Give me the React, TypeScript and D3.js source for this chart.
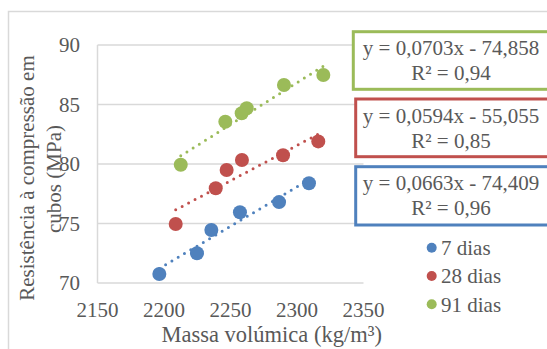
import React from "react";
import * as d3 from "d3";

const xTicks = [2150, 2200, 2250, 2300, 2350];
const yTicks = [70, 75, 80, 85, 90];

const seriesNames = ["7 dias", "28 dias", "91 dias"];
const seriesColors = ["#4F81BD", "#C0504D", "#9BBB59"];

const x7 = [2196.5, 2224.8, 2235.6, 2257.1, 2286.5, 2309.0];
const y7 = [70.76, 72.5, 74.45, 75.94, 76.8, 78.38];
const x28 = [2208.8, 2238.9, 2247.1, 2258.6, 2289.5, 2316.0];
const y28 = [74.96, 77.96, 79.5, 80.34, 80.73, 81.9];
const x91 = [2212.6, 2246.1, 2258.4, 2262.2, 2290.2, 2319.8];
const y91 = [79.94, 83.55, 84.26, 84.68, 86.64, 87.48];

const slopes = [0.0663, 0.0594, 0.0703];
const intercepts = [-74.409, -55.055, -74.858];
const equations = ["y = 0,0663x - 74,409", "y = 0,0594x - 55,055", "y = 0,0703x - 74,858"];
const r2Labels = ["R² = 0,96", "R² = 0,85", "R² = 0,94"];

const W = 547;
const H = 349;
const FONT = "'Liberation Serif', 'Times New Roman', serif";
const TEXT = "#595959";
const GRID = "#d9d9d9";

export default function App() {
  const xs = [x7, x28, x91];
  const ys = [y7, y28, y91];
  const xScale = d3.scaleLinear().domain([2150, 2350]).range([97.5, 363.5]);
  const yScale = d3.scaleLinear().domain([70, 90]).range([283, 45]);

  const line = d3
    .line<[number, number]>()
    .x((d) => xScale(d[0]))
    .y((d) => yScale(d[1]));

  const boxes = [
    { x: 355.7, y: 166.7, h: 58.3 },
    { x: 355.7, y: 99, h: 57.7 },
    { x: 353.3, y: 31.7, h: 57.6 },
  ];
  const legendY = [247.7, 276, 304.3];

  return (
    <svg
      width={W}
      height={H}
      style={{ position: "absolute", left: 0, top: 0, background: "#fff" }}
      fontFamily={FONT}
    >
      <rect x={0} y={0} width={W} height={H} fill="#fff" />
      <path d={`M8.5,${H + 2} V11.5 H${W + 2}`} fill="none" stroke={GRID} strokeWidth={1.5} />

      {yTicks.map((t) => (
        <line
          key={t}
          x1={xScale(2150)}
          x2={xScale(2350)}
          y1={yScale(t)}
          y2={yScale(t)}
          stroke={GRID}
          strokeWidth={1.5}
        />
      ))}
      <line x1={xScale(2150)} x2={xScale(2150)} y1={yScale(90)} y2={yScale(70)} stroke={GRID} strokeWidth={1.5} />

      {yTicks.map((t) => (
        <text key={t} x={80} y={yScale(t)} dy="0.35em" textAnchor="end" fontSize={21} fill={TEXT}>
          {t}
        </text>
      ))}
      {xTicks.map((t) => (
        <text key={t} x={xScale(t)} y={316.7} textAnchor="middle" fontSize={21} fill={TEXT}>
          {t}
        </text>
      ))}

      <text x={271.7} y={341.5} textAnchor="middle" fontSize={22.5} fill={TEXT}>
        Massa volúmica (kg/m³)
      </text>
      <g transform="translate(26.7,178) rotate(-90)">
        <text x={0} y={0} dy="0.35em" textAnchor="middle" fontSize={21} fill={TEXT}>
          Resistência à compressão em
        </text>
      </g>
      <g transform="translate(53.3,179) rotate(-90)">
        <text x={0} y={0} dy="0.35em" textAnchor="middle" fontSize={21} fill={TEXT}>
          cubos (MPa)
        </text>
      </g>

      {xs.map((sx, si) =>
        sx.map((xv, i) => (
          <circle key={`${si}-${i}`} cx={xScale(xv)} cy={yScale(ys[si][i])} r={7} fill={seriesColors[si]} />
        ))
      )}

      {xs.map((sx, si) => {
        const x0 = d3.min(sx) as number;
        const x1 = d3.max(sx) as number;
        const pts: [number, number][] = [
          [x0, slopes[si] * x0 + intercepts[si]],
          [x1, slopes[si] * x1 + intercepts[si]],
        ];
        return (
          <path
            key={si}
            d={line(pts) || ""}
            fill="none"
            stroke={seriesColors[si]}
            strokeWidth={3}
            strokeLinecap="round"
            strokeDasharray="0 7.3"
          />
        );
      })}

      {boxes.map((b, si) => (
        <g key={si}>
          <rect x={b.x} y={b.y} width={W + 5 - b.x} height={b.h} fill="#fff" stroke={seriesColors[si]} strokeWidth={3} />
          <text x={451} y={b.y + 23.5} textAnchor="middle" fontSize={21} fill={TEXT}>
            {equations[si]}
          </text>
          <text x={451} y={b.y + 48.5} textAnchor="middle" fontSize={21} fill={TEXT}>
            {r2Labels[si]}
          </text>
        </g>
      ))}

      {seriesNames.map((n, si) => (
        <g key={n}>
          <circle cx={431.7} cy={legendY[si]} r={5} fill={seriesColors[si]} />
          <text x={441} y={legendY[si]} dy="0.35em" fontSize={21} fill={TEXT}>
            {n}
          </text>
        </g>
      ))}
    </svg>
  );
}
